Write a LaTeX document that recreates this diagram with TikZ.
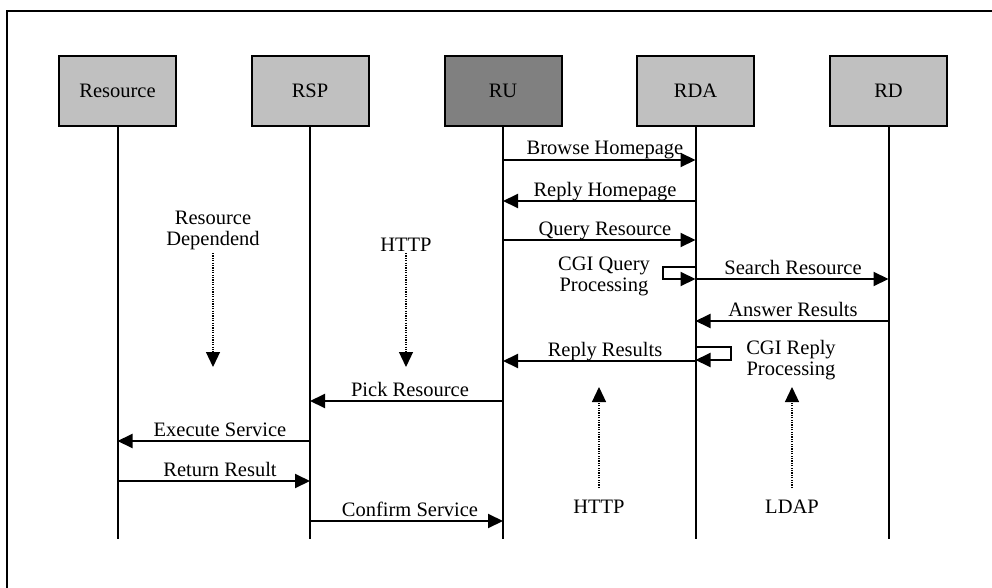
\documentclass[tikz,border=0pt]{standalone}
\usepackage{fontspec}
\setmainfont{Liberation Serif}
\usetikzlibrary{arrows.meta}
\definecolor{boxgray}{HTML}{C0C0C0}
\definecolor{rugray}{HTML}{808080}
\newcommand{\lblfont}{\fontsize{20.5}{21}\selectfont}
\begin{document}
\begin{tikzpicture}[x=1pt,y=-1pt,
  actor/.style={draw, line width=2pt, fill=boxgray, minimum width=117pt,
    minimum height=70pt, inner sep=0pt, font=\lblfont},
  lifeline/.style={line width=2pt},
  msg/.style={line width=2pt, -{Triangle[length=15pt,width=14pt]}},
  hint/.style={line width=1.2pt, dash pattern=on 1.2pt off 1.2pt,
    -{Triangle[length=15pt,width=14pt]}},
  lbl/.style={anchor=base, inner sep=0pt, font=\lblfont},
  note/.style={align=center, inner sep=0pt, font=\lblfont}]
\useasboundingbox (0,0) rectangle (992,588);

% frame
\draw[line width=2pt] (7,588) -- (7,11) -- (992,11);

% participants
\node[actor] (Resource) at (117.5,91) {Resource};
\node[actor] (RSP) at (310,91) {RSP};
\node[actor, fill=rugray] (RU) at (503,91) {RU};
\node[actor] (RDA) at (695.5,91) {RDA};
\node[actor] (RD) at (888.5,91) {RD};

% lifelines
\foreach \p in {Resource,RSP,RU,RDA,RD}
  \draw[lifeline] (\p.south) -- (\p.south |- 0,539);

% messages
\draw[msg] (RU.south |- 0,160) -- (RDA.south |- 0,160);
\node[lbl] (lBrowse) at (605,155) {Browse Homepage};

\draw[msg] (RDA.south |- 0,201) -- (RU.south |- 0,201);
\node[lbl] (lReplyHome) at (605,196) {Reply Homepage};

\draw[msg] (RU.south |- 0,240) -- (RDA.south |- 0,240);
\node[lbl] (lQuery) at (605,235) {Query Resource};

\draw[msg] (RDA.south |- 0,267) -- (663,267) -- (663,279) -- (RDA.south |- 0,279);
\node[note] (lCGIQ) at (604,276) {CGI Query\\Processing};

\draw[msg] (RDA.south |- 0,279) -- (RD.south |- 0,279);
\node[lbl] (lSearch) at (793,274) {Search Resource};

\draw[msg] (RD.south |- 0,321) -- (RDA.south |- 0,321);
\node[lbl] (lAnswer) at (793,316) {Answer Results};

\draw[msg] (RDA.south |- 0,347) -- (731,347) -- (731,360) -- (RDA.south |- 0,360);
\node[note] (lCGIR) at (791,360) {CGI Reply\\Processing};

\draw[msg] (RDA.south |- 0,361) -- (RU.south |- 0,361);
\node[lbl] (lReplyRes) at (605,356) {Reply Results};

\draw[msg] (RU.south |- 0,401) -- (RSP.south |- 0,401);
\node[lbl] (lPick) at (410,396) {Pick Resource};

\draw[msg] (RSP.south |- 0,441) -- (Resource.south |- 0,441);
\node[lbl] (lExec) at (220,436) {Execute Service};

\draw[msg] (Resource.south |- 0,481) -- (RSP.south |- 0,481);
\node[lbl] (lReturn) at (220,476) {Return Result};

\draw[msg] (RSP.south |- 0,521) -- (RU.south |- 0,521);
\node[lbl] (lConfirm) at (410,516) {Confirm Service};

% protocol hints
\node[note] (nDep) at (213,230) {Resource\\Dependend};
\coordinate (tDep) at (213,367);
\draw[hint] (213,253) -- (tDep);

\node[lbl] (nHttpTop) at (406,251) {HTTP};
\coordinate (tHttpTop) at (406,367);
\draw[hint] (406,253) -- (tHttpTop);

\node[lbl] (nHttpBot) at (599,513) {HTTP};
\coordinate (tHttpBot) at (599,387);
\draw[hint] (599,488) -- (tHttpBot);

\node[lbl] (nLdap) at (792,513) {LDAP};
\coordinate (tLdap) at (792,387);
\draw[hint] (792,488) -- (tLdap);
\end{tikzpicture}
\end{document}
